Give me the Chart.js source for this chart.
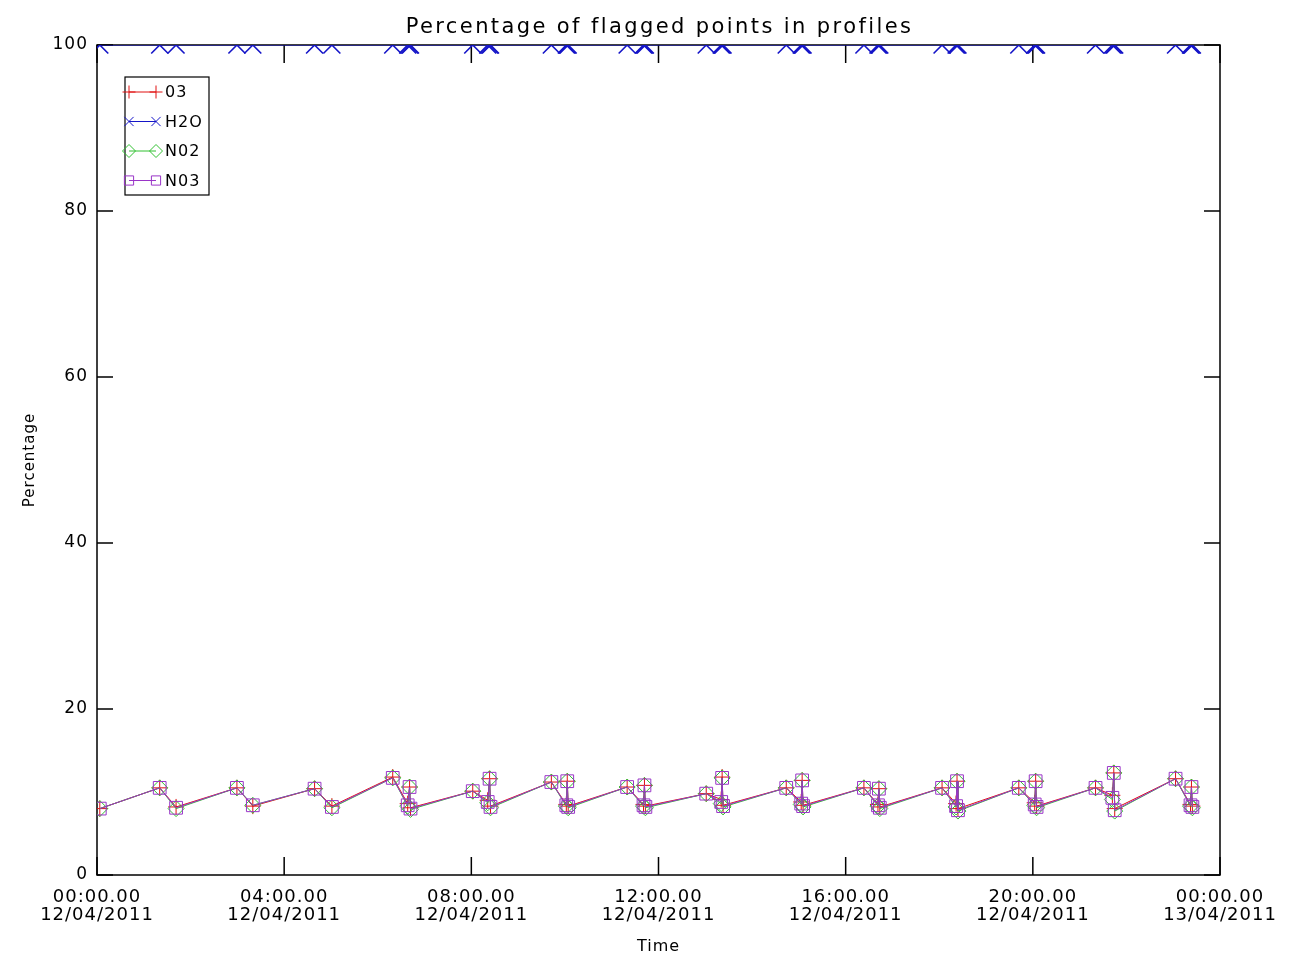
<!DOCTYPE html>
<html>
<head>
<meta charset="utf-8">
<script src="https://cdn.jsdelivr.net/npm/chart.js@4.4.1/dist/chart.umd.min.js"></script>
<style>
html, body { margin: 0; padding: 0; background: #fff; }
</style>
</head>
<body>
<canvas id="chart" width="1293" height="961"></canvas>
<script>
// hours since 00:00 12/04/2011
const hours = [
  0.06, 1.34, 1.69, 2.99, 3.33, 4.65, 5.02,
  6.32, 6.64, 6.68, 6.70,
  8.03, 8.35, 8.39, 8.41,
  9.71, 10.03, 10.05, 10.07,
  11.33, 11.68, 11.70, 11.72,
  13.02, 13.34, 13.36, 13.38,
  14.73, 15.05, 15.07, 15.09,
  16.39, 16.69, 16.71, 16.73,
  18.06, 18.36, 18.38, 18.40,
  19.70, 20.04, 20.06, 20.08,
  21.34, 21.70, 21.73, 21.75,
  23.05, 23.37, 23.39, 23.41
];
const o3Values = [
  8.0, 10.5, 8.2, 10.5, 8.3, 10.4, 8.3,
  11.8, 8.6, 10.6, 8.1,
  10.1, 9.0, 11.6, 8.3,
  11.2, 8.5, 11.3, 8.3,
  10.6, 8.5, 10.8, 8.3,
  9.8, 9.1, 11.8, 8.4,
  10.5, 8.8, 11.4, 8.4,
  10.5, 8.5, 10.4, 8.2,
  10.5, 8.6, 11.3, 8.0,
  10.5, 8.7, 11.3, 8.3,
  10.5, 9.6, 12.3, 8.0,
  11.6, 8.5, 10.6, 8.3
];
const h2oValues = [
  100, 100, 100, 100, 100, 100, 100,
  100, 100, 100, 100,
  100, 100, 100, 100,
  100, 100, 100, 100,
  100, 100, 100, 100,
  100, 100, 100, 100,
  100, 100, 100, 100,
  100, 100, 100, 100,
  100, 100, 100, 100,
  100, 100, 100, 100,
  100, 100, 100, 100,
  100, 100, 100, 100
];
const no2Values = [
  8.0, 10.5, 8.0, 10.5, 8.4, 10.4, 8.1,
  11.7, 8.3, 10.6, 7.9,
  10.1, 8.7, 11.6, 8.1,
  11.2, 8.3, 11.3, 8.1,
  10.6, 8.3, 10.8, 8.1,
  9.8, 8.6, 11.7, 8.2,
  10.5, 8.5, 11.4, 8.2,
  10.5, 8.3, 10.4, 8.0,
  10.5, 8.2, 11.3, 7.7,
  10.5, 8.4, 11.3, 8.1,
  10.5, 9.1, 12.3, 7.7,
  11.6, 8.3, 10.6, 8.1
];
const no3Values = [
  8.0, 10.5, 8.1, 10.5, 8.4, 10.4, 8.2,
  11.7, 8.4, 10.6, 8.0,
  10.1, 8.8, 11.6, 8.2,
  11.2, 8.4, 11.3, 8.2,
  10.6, 8.4, 10.8, 8.2,
  9.8, 8.8, 11.7, 8.3,
  10.5, 8.6, 11.4, 8.3,
  10.5, 8.4, 10.4, 8.1,
  10.5, 8.3, 11.3, 7.8,
  10.5, 8.5, 11.3, 8.2,
  10.5, 9.3, 12.3, 7.8,
  11.6, 8.4, 10.6, 8.2
];
const seriesNames = ['03', 'H2O', 'N02', 'N03'];
const tickTimes = ['00:00.00', '04:00.00', '08:00.00', '12:00.00', '16:00.00', '20:00.00', '00:00.00'];
const tickDates = ['12/04/2011', '12/04/2011', '12/04/2011', '12/04/2011', '12/04/2011', '12/04/2011', '13/04/2011'];
const yTicks = [0, 20, 40, 60, 80, 100];
const chartTitle = 'Percentage of flagged points in profiles';

const FONT = 'DejaVu Sans';

const toPoints = vals => vals.map((v, i) => ({ x: hours[i], y: v }));

// the IDL fonts are wide, so space the letters a bit
const spacingPlugin = {
  id: 'spacing',
  beforeUpdate(chart) { chart.ctx.letterSpacing = '1px'; }
};

// IDL style box with ticks pointing inwards
const framePlugin = {
  id: 'frame',
  beforeDatasetsDraw(chart) {
    const { ctx, chartArea: a, scales: { x, y } } = chart;
    ctx.save();
    ctx.strokeStyle = '#000';
    ctx.lineWidth = 1.5;
    ctx.strokeRect(a.left, a.top, a.right - a.left, a.bottom - a.top);
    ctx.beginPath();
    x.ticks.forEach(t => {
      const px = x.getPixelForValue(t.value);
      ctx.moveTo(px, a.bottom); ctx.lineTo(px, a.bottom - 18);
      ctx.moveTo(px, a.top); ctx.lineTo(px, a.top + 18);
    });
    y.ticks.forEach(t => {
      const py = y.getPixelForValue(t.value);
      ctx.moveTo(a.left, py); ctx.lineTo(a.left + 16, py);
      ctx.moveTo(a.right, py); ctx.lineTo(a.right - 16, py);
    });
    ctx.stroke();
    ctx.restore();
  },
  afterDraw(chart) {
    const { ctx, chartArea: a } = chart;
    ctx.save();
    ctx.letterSpacing = '2.4px';
    ctx.fillStyle = '#000';
    ctx.font = '21px "' + FONT + '"';
    ctx.textAlign = 'center';
    ctx.textBaseline = 'middle';
    ctx.fillText(chartTitle, (a.left + a.right) / 2 + 1, 28);
    ctx.restore();
  }
};

// legend box like the IDL one: marker - line - marker, then name
const legendPlugin = {
  id: 'boxLegend',
  afterDraw(chart) {
    const ctx = chart.ctx;
    const bx = 125, by = 77, bw = 84, bh = 118;
    ctx.save();
    ctx.strokeStyle = '#000';
    ctx.lineWidth = 1.2;
    ctx.strokeRect(bx, by, bw, bh);
    chart.data.datasets.forEach((ds, i) => {
      const ly = by + 15 + i * 29.5;
      ctx.strokeStyle = ds.borderColor;
      ctx.fillStyle = 'rgba(0,0,0,0)';
      ctx.lineWidth = 1;
      ctx.beginPath();
      ctx.moveTo(bx + 4, ly);
      ctx.lineTo(bx + 31, ly);
      ctx.stroke();
      const opts = { pointStyle: ds.pointStyle, radius: 6.5, rotation: 0, borderWidth: 1 };
      Chart.helpers.drawPoint(ctx, opts, bx + 4, ly);
      Chart.helpers.drawPoint(ctx, opts, bx + 31, ly);
      ctx.fillStyle = '#000';
      ctx.font = '16px "' + FONT + '"';
      ctx.textBaseline = 'middle';
      ctx.fillText(ds.label, bx + 40, ly + 1);
    });
    ctx.restore();
  }
};

const mkSet = (label, vals, color, style, radius, order, pw) => ({
  label,
  data: toPoints(vals),
  borderColor: color,
  borderWidth: 1,
  pointStyle: style,
  pointRadius: radius,
  pointBorderColor: color,
  pointBackgroundColor: 'rgba(0,0,0,0)',
  pointBorderWidth: pw || 1,
  tension: 0,
  order
});

new Chart(document.getElementById('chart'), {
  type: 'line',
  data: {
    datasets: [
      mkSet(seriesNames[0], o3Values, '#e01010', 'cross', 8, 3),
      mkSet(seriesNames[1], h2oValues, '#1515c8', 'crossRot', 12, 2, 1.6),
      mkSet(seriesNames[2], no2Values, '#30c030', 'rectRot', 8, 1),
      mkSet(seriesNames[3], no3Values, '#9a35c8', 'rect', 9, 0)
    ]
  },
  options: {
    responsive: false,
    animation: false,
    devicePixelRatio: 1,
    layout: { padding: { left: 0, right: 73, top: 45, bottom: 0 } },
    plugins: {
      legend: { display: false },
      tooltip: { enabled: false },
      title: { display: false }
    },
    scales: {
      x: {
        type: 'linear',
        min: 0,
        max: 24,
        grid: { display: false, drawTicks: false },
        border: { display: false },
        ticks: {
          stepSize: 4,
          autoSkip: false,
          maxRotation: 0,
          padding: 13,
          color: '#000',
          font: { family: FONT, size: 18, lineHeight: 1.0 },
          callback: (v, i) => [tickTimes[i], tickDates[i]]
        },
        title: {
          display: true,
          text: 'Time',
          color: '#000',
          font: { family: FONT, size: 16 },
          padding: { top: 0, bottom: 5 }
        },
        afterFit: s => { s.height = 86; }
      },
      y: {
        min: 0,
        max: 100,
        grid: { display: false, drawTicks: false },
        border: { display: false },
        afterBuildTicks: s => { s.ticks = yTicks.map(v => ({ value: v })); },
        ticks: {
          padding: 9,
          color: '#000',
          font: { family: FONT, size: 17 }
        },
        title: {
          display: true,
          text: 'Percentage',
          color: '#000',
          font: { family: FONT, size: 15 },
          padding: { top: 21 }
        },
        afterFit: s => { s.width = 97; }
      }
    }
  },
  plugins: [spacingPlugin, framePlugin, legendPlugin]
});
</script>
</body>
</html>
